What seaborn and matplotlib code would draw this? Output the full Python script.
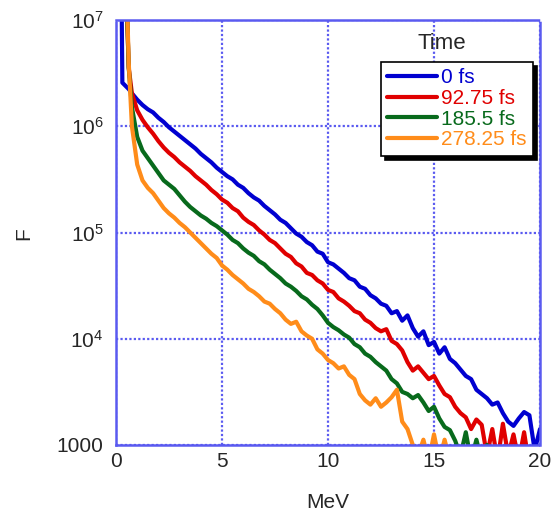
import numpy as np
import pandas as pd
import matplotlib
matplotlib.use("Agg")
import matplotlib.pyplot as plt
import seaborn as sns

# energy bins (MeV)
mev = [0.25, 0.3, 0.4, 0.5, 0.6, 0.75,
       1.0, 1.25, 1.5, 1.75, 2.0, 2.25, 2.5, 2.75,
       3.0, 3.25, 3.5, 3.75, 4.0, 4.25, 4.5, 4.75,
       5.0, 5.25, 5.5, 5.75, 6.0, 6.25, 6.5, 6.75,
       7.0, 7.25, 7.5, 7.75, 8.0, 8.25, 8.5, 8.75,
       9.0, 9.25, 9.5, 9.75, 10.0, 10.25, 10.5, 10.75,
       11.0, 11.25, 11.5, 11.75, 12.0, 12.25, 12.5, 12.75,
       13.0, 13.25, 13.5, 13.75, 14.0, 14.25, 14.5, 14.75,
       15.0, 15.25, 15.5, 15.75, 16.0, 16.25, 16.5, 16.75,
       17.0, 17.25, 17.5, 17.75, 18.0, 18.25, 18.5, 18.75,
       19.0, 19.25, 19.5, 19.75, 20.0]

nan = np.nan
# log10(F), one list per time step
logf_0fs = [7.5, 6.41, 6.39, 6.37, 6.35, 6.31,
            6.25, 6.20, 6.16, 6.13, 6.08, 6.04, 5.99, 5.95,
            5.91, 5.87, 5.83, 5.79, 5.74, 5.70, 5.66, 5.61,
            5.57, 5.53, 5.50, 5.45, 5.42, 5.37, 5.33, 5.30,
            5.25, 5.21, 5.17, 5.12, 5.09, 5.04, 4.99, 4.96,
            4.91, 4.88, 4.82, 4.80, 4.72, 4.70, 4.66, 4.62,
            4.57, 4.55, 4.49, 4.47, 4.41, 4.38, 4.33, 4.31,
            4.24, 4.26, 4.17, 4.22, 4.10, 4.02, 4.07, 3.94,
            3.97, 3.86, 3.92, 3.81, 3.77, 3.71, 3.65, 3.62,
            3.52, 3.48, 3.44, 3.38, 3.40, 3.30, 3.22, 3.18,
            3.25, 3.31, 3.28, 2.95, 3.15]
logf_93fs = [nan, nan, nan, 7.2, 6.55, 6.31,
             6.15, 6.06, 5.99, 5.93, 5.86, 5.80, 5.75, 5.71,
             5.66, 5.62, 5.58, 5.53, 5.49, 5.45, 5.40, 5.36,
             5.31, 5.28, 5.23, 5.20, 5.14, 5.10, 5.07, 5.02,
             4.98, 4.93, 4.90, 4.85, 4.80, 4.77, 4.71, 4.68,
             4.62, 4.60, 4.55, 4.52, 4.46, 4.44, 4.38, 4.35,
             4.31, 4.26, 4.24, 4.18, 4.15, 4.10, 4.07, 4.09,
             3.98, 3.95, 3.89, 3.78, 3.70, 3.74, 3.68, 3.62,
             3.65, 3.56, 3.48, 3.45, 3.36, 3.30, 3.26, 3.15,
             3.24, 3.19, 2.90, 3.15, 2.85, 3.20, 2.90, 3.10,
             2.85, 3.12, 2.80, nan, nan]
logf_186fs = [nan, nan, nan, 7.2, 6.55, 6.18,
              5.90, 5.77, 5.70, 5.63, 5.56, 5.49, 5.45, 5.41,
              5.35, 5.29, 5.24, 5.20, 5.16, 5.13, 5.09, 5.06,
              5.02, 4.98, 4.93, 4.90, 4.85, 4.81, 4.78, 4.73,
              4.70, 4.65, 4.61, 4.57, 4.52, 4.49, 4.45, 4.40,
              4.37, 4.32, 4.28, 4.22, 4.15, 4.11, 4.08, 4.04,
              4.01, 3.95, 3.92, 3.86, 3.83, 3.78, 3.74, 3.70,
              3.62, 3.58, 3.50, 3.48, 3.44, 3.47, 3.40, 3.32,
              3.36, 3.25, 3.17, 3.14, 3.04, 2.90, 3.12, 2.85,
              3.05, 2.85, 3.00, 2.80, nan, nan, nan, nan,
              nan, nan, nan, nan, nan]
logf_278fs = [nan, nan, nan, 7.3, 6.6, 6.0,
              5.64, 5.49, 5.42, 5.37, 5.30, 5.23, 5.18, 5.14,
              5.09, 5.05, 5.00, 4.95, 4.90, 4.85, 4.80, 4.76,
              4.69, 4.65, 4.60, 4.56, 4.52, 4.47, 4.44, 4.40,
              4.35, 4.33, 4.28, 4.24, 4.18, 4.14, 4.16, 4.07,
              4.03, 4.00, 3.90, 3.86, 3.80, 3.77, 3.72, 3.74,
              3.66, 3.62, 3.48, 3.42, 3.38, 3.44, 3.36, 3.40,
              3.45, 3.52, 3.22, 3.15, 3.00, 2.90, 3.05, 2.85,
              3.10, 2.85, 3.05, 2.85, nan, nan, nan, nan,
              nan, nan, nan, nan, nan, nan, nan, nan,
              nan, nan, nan, nan, nan]

times = ["0 fs", "92.75 fs", "185.5 fs", "278.25 fs"]
colors = ["#0000d0", "#e00000", "#086a1c", "#ff8c1a"]

yticks = [1e3, 1e4, 1e5, 1e6, 1e7]
ytick_labels = ["1000", "$10^4$", "$10^5$", "$10^6$", "$10^7$"]
xticks = [0, 5, 10, 15, 20]

frames = []
for t, lf in zip(times, [logf_0fs, logf_93fs, logf_186fs, logf_278fs]):
    frames.append(pd.DataFrame({"MeV": mev, "F": 10 ** np.array(lf), "Time": t}))
df = pd.concat(frames).dropna()

sns.set_style("white")
plt.rcParams["font.family"] = ["Liberation Sans", "DejaVu Sans"]
plt.rcParams["mathtext.fontset"] = "custom"
plt.rcParams["mathtext.rm"] = "Liberation Sans"
plt.rcParams["mathtext.it"] = "Liberation Sans"

fig = plt.figure(figsize=(5.54, 5.22), dpi=100)
ax = fig.add_axes([116 / 554, 1 - 445 / 522, 424 / 554, 425 / 522])

sns.lineplot(data=df, x="MeV", y="F", hue="Time", hue_order=times,
             palette=colors, estimator=None, sort=True, linewidth=3, ax=ax)

ax.set_yscale("log")
ax.set_ylim(1e3, 1e7)
ax.set_xlim(0, 20)
ax.set_yticks(yticks)
ax.set_yticklabels(ytick_labels)
ax.minorticks_off()
ax.set_xticks(xticks)
ax.set_xticklabels([str(v) for v in xticks])

grid_c = "#5a5af0"
ax.grid(True, color=grid_c, linestyle=(0, (1, 1)), linewidth=1.6)
ax.set_axisbelow(True)
for s in ax.spines.values():
    s.set_color(grid_c)
    s.set_linestyle((0, (1, 1)))
    s.set_linewidth(1.8)
ax.tick_params(axis="both", labelsize=15, length=3, direction="in",
               color=grid_c)
ax.tick_params(axis="y", pad=9)
ax.tick_params(axis="x", pad=5)

ax.set_xlabel("MeV", fontsize=15, labelpad=16)
ax.set_ylabel("F", fontsize=15)
ax.yaxis.set_label_coords(-0.195, 0.497)

leg = ax.legend(loc="upper right", bbox_to_anchor=(0.983, 0.901),
                borderaxespad=0, fontsize=15, handlelength=2.4,
                handletextpad=0.2, labelspacing=0.08, borderpad=0.3,
                fancybox=False, edgecolor="black", framealpha=1,
                shadow={"color": "black", "alpha": 1, "ox": 3, "oy": -3})
leg.get_frame().set_linewidth(1.2)
for txt, c in zip(leg.get_texts(), colors):
    txt.set_color(c)
for ln in leg.get_lines():
    ln.set_linewidth(3)
ax.text(0.769, 0.944, "Time", transform=ax.transAxes, fontsize=16,
        ha="center", va="center")

fig.savefig("out.png", dpi=100)
